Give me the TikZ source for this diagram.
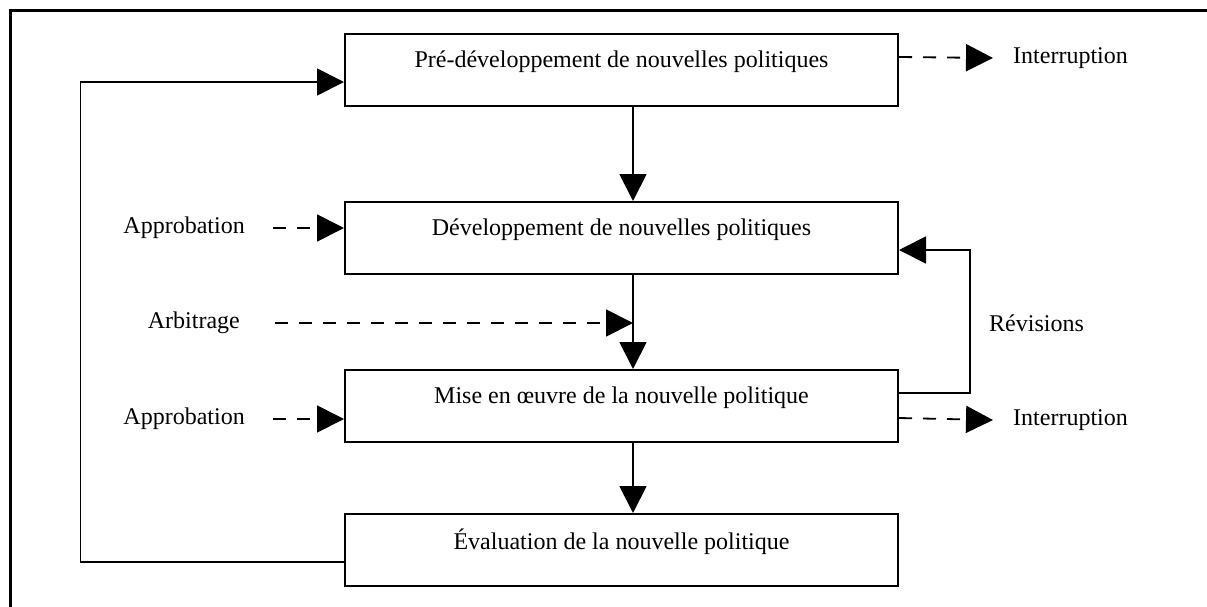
\documentclass[tikz,border=0pt]{standalone}
\usepackage{fontspec}
\setmainfont{Liberation Serif}
\usetikzlibrary{arrows.meta}
\begin{document}
\begin{tikzpicture}[x=1pt,y=-1pt,
  every node/.style={font=\fontsize{24}{28}\selectfont},
  stage/.style={draw, line width=2pt, minimum width=553pt, minimum height=72pt, inner sep=0pt},
  caption/.style={inner sep=0pt},
  arr/.style={line width=1.8pt, -{Triangle[length=27pt,width=27pt]}},
  dsh/.style={arr, dash pattern=on 13pt off 11pt}]
  \clip (0,0) rectangle (1207,606);
  \fill[white] (0,0) rectangle (1207,606);
  % outer frame
  \draw[line width=3pt] (10,10) rectangle (1400,800);

  % stages
  \node[stage] (b1) at (621.5,70) {};
  \node[stage] (b2) at (621.5,238) {};
  \node[stage] (b3) at (621.5,406) {};
  \node[stage] (b4) at (621.5,550) {};
  \node (t1) at (621.5,62) {Pré-développement de nouvelles politiques};
  \node (t2) at (621.5,230) {Développement de nouvelles politiques};
  \node (t3) at (621.5,398) {Mise en œuvre de la nouvelle politique};
  \node (t4) at (621.5,542) {Évaluation de la nouvelle politique};

  % side labels
  \node[caption, anchor=east] (ap1) at (245,228) {Approbation};
  \node[caption, anchor=east] (arb) at (240,323) {Arbitrage};
  \node[caption, anchor=east] (ap2) at (245,419) {Approbation};
  \node[caption, anchor=west] (int1) at (1013,58) {Interruption};
  \node[caption, anchor=west] (int2) at (1013,420) {Interruption};
  \node[caption, anchor=west] (rev) at (989,323) {Révisions};

  % main flow
  \coordinate (s1) at ([xshift=11.5pt]b1.south);
  \coordinate (s2) at ([xshift=11.5pt]b2.south);
  \coordinate (s3) at ([xshift=11.5pt]b3.south);
  \draw[arr] (s1) -- (s1 |- b2.north);
  \draw[arr] (s2) -- (s2 |- b3.north);
  \draw[arr] (s3) -- (s3 |- b4.north);

  % feedback loop from evaluation to pre-development
  \draw[arr] ([yshift=-12pt]b4.west) -- ++(-263.5,0) |- ([yshift=-12pt]b1.west);

  % revisions loop
  \draw[arr] ([yshift=13pt]b3.east) -- ++(71,0) |- ([yshift=-12pt]b2.east);

  % dashed inputs and outputs
  \draw[dsh] ([xshift=28pt]ap1.east) -- ([yshift=10pt]b2.west);
  \draw[dsh] ([xshift=28pt]ap2.east) -- ([yshift=-13pt]b3.west);
  \draw[dsh] ([xshift=35pt]arb.east) -- (s2 |- arb);
  \draw[dsh] ([yshift=13pt]b1.east) -- ([xshift=-20pt]int1.west);
  \draw[dsh] ([yshift=-12pt]b3.east) -- ([xshift=-20pt]int2.west);
\end{tikzpicture}
\end{document}
